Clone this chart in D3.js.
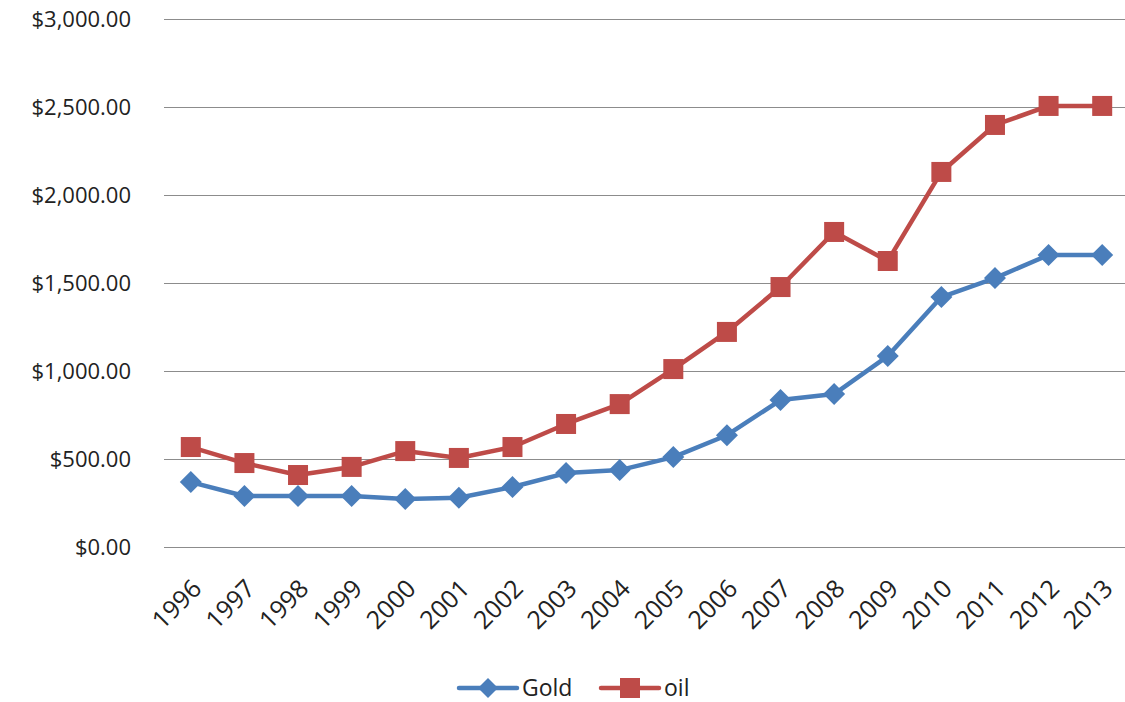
<!DOCTYPE html>
<html><head><meta charset="utf-8">
<script src="https://cdn.jsdelivr.net/npm/d3@7"></script>
<style>body{margin:0;background:#fff}svg{display:block}text{font-family:"Open Sans","Noto Sans",sans-serif;fill:#222}</style>
</head><body>
<svg id="c" width="1125" height="702"></svg>
<script>
const years = ["1996","1997","1998","1999","2000","2001","2002","2003","2004","2005","2006","2007","2008","2009","2010","2011","2012","2013"];
const gold = [369,290,290,290,273,280,341,420,437,511,635,835,869,1085,1420,1528,1659,1659];
const oil = [568,477,409,455,545,506,568,699,812,1011,1222,1477,1790,1625,2131,2398,2506,2506];
const yTicks = [0,500,1000,1500,2000,2500,3000];
const seriesNames = ["Gold","oil"];
const colors = ["#4A7EBB","#BE4B48"];

const svg = d3.select("#c");
const x = d3.scaleBand().domain(years).range([164,1129]);
const y = d3.scaleLinear().domain([0,3000]).range([547,19]);
const fmt = d => "$" + d3.format(",.2f")(d);

// gridlines
svg.append("g").selectAll("line").data(yTicks).join("line")
  .attr("x1",164).attr("x2",1125)
  .attr("y1",d=>y(d)+0.5).attr("y2",d=>y(d)+0.5)
  .attr("stroke","#8c8c8c").attr("stroke-width",1);

// y labels
svg.append("g").selectAll("text").data(yTicks).join("text")
  .attr("x",131).attr("y",d=>y(d)).attr("dy","0.35em")
  .attr("text-anchor","end").style("font-size","22px").text(fmt);

// x labels
svg.append("g").selectAll("text").data(years).join("text")
  .attr("transform",d=>`translate(${x(d)+x.bandwidth()/2+6},${584}) rotate(-45)`)
  .attr("text-anchor","end").attr("dy","0.35em")
  .style("font-size","25px").text(d=>d);

const cx = d => x(d)+x.bandwidth()/2;
const line = d3.line().x((d,i)=>cx(years[i])).y(d=>y(d));

function diamond(g, px, py, s){
  g.append("path").attr("d",`M${px},${py-s}L${px+s},${py}L${px},${py+s}L${px-s},${py}Z`).attr("fill",colors[0]);
}
function square(g, px, py, s){
  g.append("rect").attr("x",px-s).attr("y",py-s).attr("width",2*s).attr("height",2*s).attr("fill",colors[1]);
}

const gG = svg.append("g");
gG.append("path").datum(gold).attr("d",line).attr("fill","none").attr("stroke",colors[0]).attr("stroke-width",4.5).attr("stroke-linejoin","round");
gold.forEach((v,i)=>diamond(gG,cx(years[i]),y(v),11));

const gO = svg.append("g");
gO.append("path").datum(oil).attr("d",line).attr("fill","none").attr("stroke",colors[1]).attr("stroke-width",4.5).attr("stroke-linejoin","round");
oil.forEach((v,i)=>square(gO,cx(years[i]),y(v),10));

// legend
const lg = svg.append("g");
lg.append("line").attr("x1",459).attr("x2",517).attr("y1",688).attr("y2",688).attr("stroke",colors[0]).attr("stroke-width",4.5).attr("stroke-linecap","round");
diamond(lg,488,688,10);
lg.append("text").attr("x",522).attr("y",688).attr("dy","0.35em").style("font-size","23px").text(seriesNames[0]);
lg.append("line").attr("x1",601).attr("x2",659).attr("y1",688).attr("y2",688).attr("stroke",colors[1]).attr("stroke-width",4.5).attr("stroke-linecap","round");
square(lg,630,688,10);
lg.append("text").attr("x",664).attr("y",688).attr("dy","0.35em").style("font-size","23px").text(seriesNames[1]);
</script>
</body></html>
